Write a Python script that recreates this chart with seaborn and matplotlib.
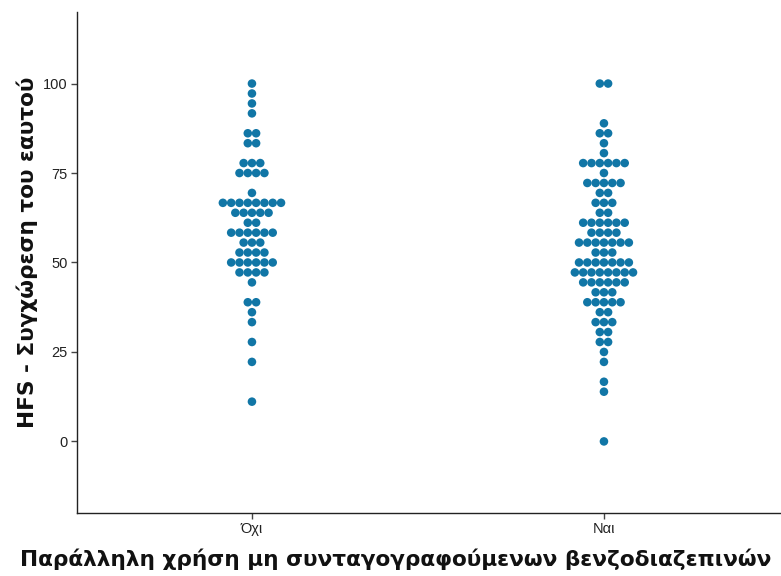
import numpy as np
import pandas as pd
import matplotlib
matplotlib.use("Agg")
import matplotlib.pyplot as plt
import seaborn as sns

# HFS self-forgiveness scores (0-100) and how many respondents sit at each score
groups = ["Όχι", "Ναι"]

scores_no = [100.0, 97.22, 94.44, 91.67, 86.11, 83.33, 77.78, 75.0, 69.44, 66.67,
             63.89, 61.11, 58.33, 55.56, 52.78, 50.0, 47.22, 44.44, 38.89, 36.11,
             33.33, 27.78, 22.22, 11.11]
counts_no = [1, 1, 1, 1, 2, 2, 3, 4, 1, 8,
             5, 2, 6, 3, 4, 6, 4, 1, 2, 1,
             1, 1, 1, 1]

scores_yes = [100.0, 88.89, 86.11, 83.33, 80.56, 77.78, 75.0, 72.22, 69.44, 66.67,
              63.89, 61.11, 58.33, 55.56, 52.78, 50.0, 47.22, 44.44, 41.67, 38.89,
              36.11, 33.33, 30.56, 27.78, 25.0, 22.22, 16.67, 13.89, 0.0]
counts_yes = [2, 1, 2, 1, 1, 6, 1, 5, 2, 3,
              2, 6, 4, 7, 3, 7, 8, 6, 3, 5,
              2, 3, 2, 2, 1, 1, 1, 1, 1]

y_ticks = [0, 25, 50, 75, 100]

DOT_COLOR = "#1176A6"
DOT_STEP = 0.0236  # horizontal spacing between stacked dots, in category units

sns.set_style("ticks")
plt.rcParams["font.family"] = ["Liberation Sans", "DejaVu Sans"]

# Build a centred dot-plot layout: equal scores line up in a symmetric row
rows = []
for gi, (name, scores, counts) in enumerate(
        [(groups[0], scores_no, counts_no), (groups[1], scores_yes, counts_yes)]):
    for s, n in zip(scores, counts):
        offsets = (np.arange(n) - (n - 1) / 2) * DOT_STEP
        for off in offsets:
            rows.append({"group": name, "pos": gi + off, "score": s})
df = pd.DataFrame(rows)

fig = plt.figure(figsize=(7.81, 5.76), dpi=100)
ax = fig.add_axes([0.0986, 0.1094, 0.9014, 0.8698])

sns.scatterplot(data=df, x="pos", y="score", ax=ax, color=DOT_COLOR,
                s=38, edgecolor="none", linewidth=0, legend=False)

ax.set_xlim(-0.497, 1.503)
ax.set_ylim(-20, 120)
ax.set_xticks(range(len(groups)))
ax.set_xticklabels(groups)
ax.set_yticks(y_ticks)

for side in ["top", "right"]:
    ax.spines[side].set_visible(False)
for side in ["left", "bottom"]:
    ax.spines[side].set_color("#222222")
    ax.spines[side].set_linewidth(1.0)

ax.tick_params(axis="both", direction="out", length=4.5, width=1.0,
               color="#444444", labelsize=10.5, labelcolor="#222222", pad=2)

label_font = dict(family=["DejaVu Sans"], fontsize=15.6, fontweight="bold",
                  color="#111111")
ax.set_xlabel("Παράλληλη χρήση μη συνταγογραφούμενων βενζοδιαζεπινών", **label_font)
ax.set_ylabel("HFS - Συγχώρεση του εαυτού", **label_font)
ax.xaxis.set_label_coords(0.452, -0.070)
ax.yaxis.set_label_coords(-0.056, 0.52)

fig.savefig("out.png", dpi=100)
